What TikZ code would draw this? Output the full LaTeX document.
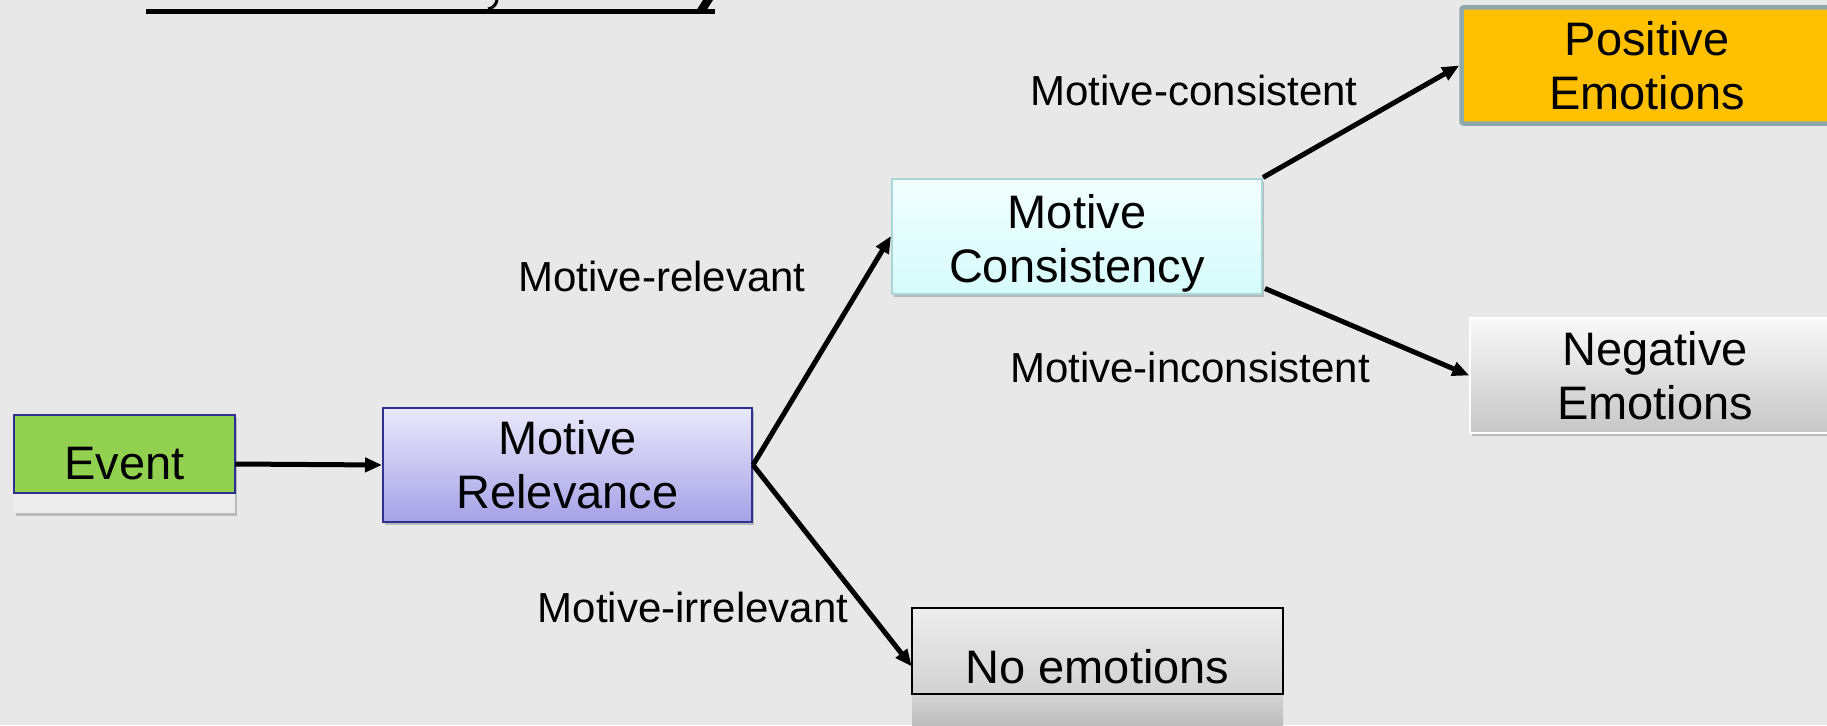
\documentclass[tikz,border=0pt]{standalone}
\usepackage{fontspec}
\setmainfont{Liberation Sans}
\usetikzlibrary{arrows.meta,shadows,calc}
\definecolor{bg}{HTML}{E8E8E8}
\definecolor{evgreen}{HTML}{92D050}
\definecolor{navy}{HTML}{2E3192}
\definecolor{lavtop}{HTML}{E9E9FB}
\definecolor{lavbot}{HTML}{A6A1E6}
\definecolor{cyantop}{HTML}{F2FFFF}
\definecolor{cyanbot}{HTML}{D6FBFB}
\definecolor{cyanline}{HTML}{A9D6D6}
\definecolor{posfill}{HTML}{FFC000}
\definecolor{posline}{HTML}{8FA8AA}
\definecolor{negtop}{HTML}{F9F9F9}
\definecolor{negbot}{HTML}{C6C6C6}
\definecolor{netop}{HTML}{EDEDED}
\definecolor{nebot}{HTML}{D2D2D2}
\definecolor{striptop}{HTML}{D4D4D4}
\definecolor{stripbot}{HTML}{BDBDBD}
\definecolor{evstrip}{HTML}{EDEDED}
\tikzset{
  boxtext/.style={font=\fontsize{47}{54}\selectfont, align=center, inner sep=0pt},
  labeltext/.style={font=\fontsize{42}{48}\selectfont, inner sep=0pt},
  softshadow/.style={drop shadow={shadow xshift=2pt, shadow yshift=-3pt, opacity=0.35, fill=black!60}},
  flowarrow/.style={line width=5pt, -{Triangle[length=17pt,width=14pt]}},
}
\begin{document}
\begin{tikzpicture}[x=1pt,y=-1pt]
\useasboundingbox (0,0) rectangle (1827,725);
\fill[bg] (0,0) rectangle (1827,725);

% title remnants (cut off at top edge)
\fill[black] (146,9) rectangle (715,14);
\draw[line width=3pt] (497,0) .. controls (496,5) and (493,8) .. (488,9);
\fill[black] (703,0) -- (713,0) -- (706,11) -- (696,11) -- cycle;

% Event
\fill[evstrip, softshadow] (14,415) rectangle (235,513);
\filldraw[fill=evgreen, draw=navy, line width=2pt] (14,415) rectangle (235,493);
\node[boxtext, minimum width=221pt, minimum height=98pt] (ev) at (124.5,464) {\raisebox{-2pt}{Event}};

% Motive Relevance
\node[boxtext, minimum width=369pt, minimum height=114pt, top color=lavtop, bottom color=lavbot, draw=navy, line width=2pt, softshadow] (mr) at (567.5,465) {Motive\\Relevance};

% Motive Consistency
\node[boxtext, minimum width=370pt, minimum height=115pt, top color=cyantop, bottom color=cyanbot, draw=cyanline, line width=2pt, softshadow] (mc) at (1077,236) {};
\node[boxtext] (mctext) at ($(mc.center)+(0,7)$) {Motive\\Consistency};

% Positive Emotions
\node[boxtext, minimum width=371pt, minimum height=116pt, fill=posfill, draw=posline, line width=4.5pt, rounded corners=2pt] (pe) at (1647,65.5) {Positive\\Emotions};

% Negative Emotions
\node[boxtext, minimum width=370pt, minimum height=115pt, top color=negtop, bottom color=negbot, draw=white, line width=1.5pt, softshadow] (ng) at (1655,375.5) {Negative\\Emotions};

% No emotions
\shade[top color=striptop, bottom color=stripbot] (912,694) rectangle (1283,725);
\shade[top color=netop, bottom color=nebot] (912,608) rectangle (1283,694);
\draw[black, line width=2pt] (912,608) rectangle (1283,694);
\node[boxtext, minimum width=371pt, minimum height=117pt] (ne) at (1097.5,666.5) {No emotions};

% connectors
\draw[flowarrow] (ev.east) -- (mr.west);
\draw[flowarrow] (mr.east) -- (mc.west);
\draw[flowarrow] (mr.east) -- (ne.west);
\draw[flowarrow] (mc.north east) -- (pe.west);
\draw[flowarrow] ($(mc.south east)+(2,-6)$) -- (ng.west);

% labels
\node[labeltext] (l1) at (1194,90) {Motive-consistent};
\node[labeltext] (l2) at (662,276) {Motive-relevant};
\node[labeltext] (l3) at (1190,367) {Motive-inconsistent};
\node[labeltext] (l4) at (693,607) {Motive-irrelevant};
\end{tikzpicture}
\end{document}
